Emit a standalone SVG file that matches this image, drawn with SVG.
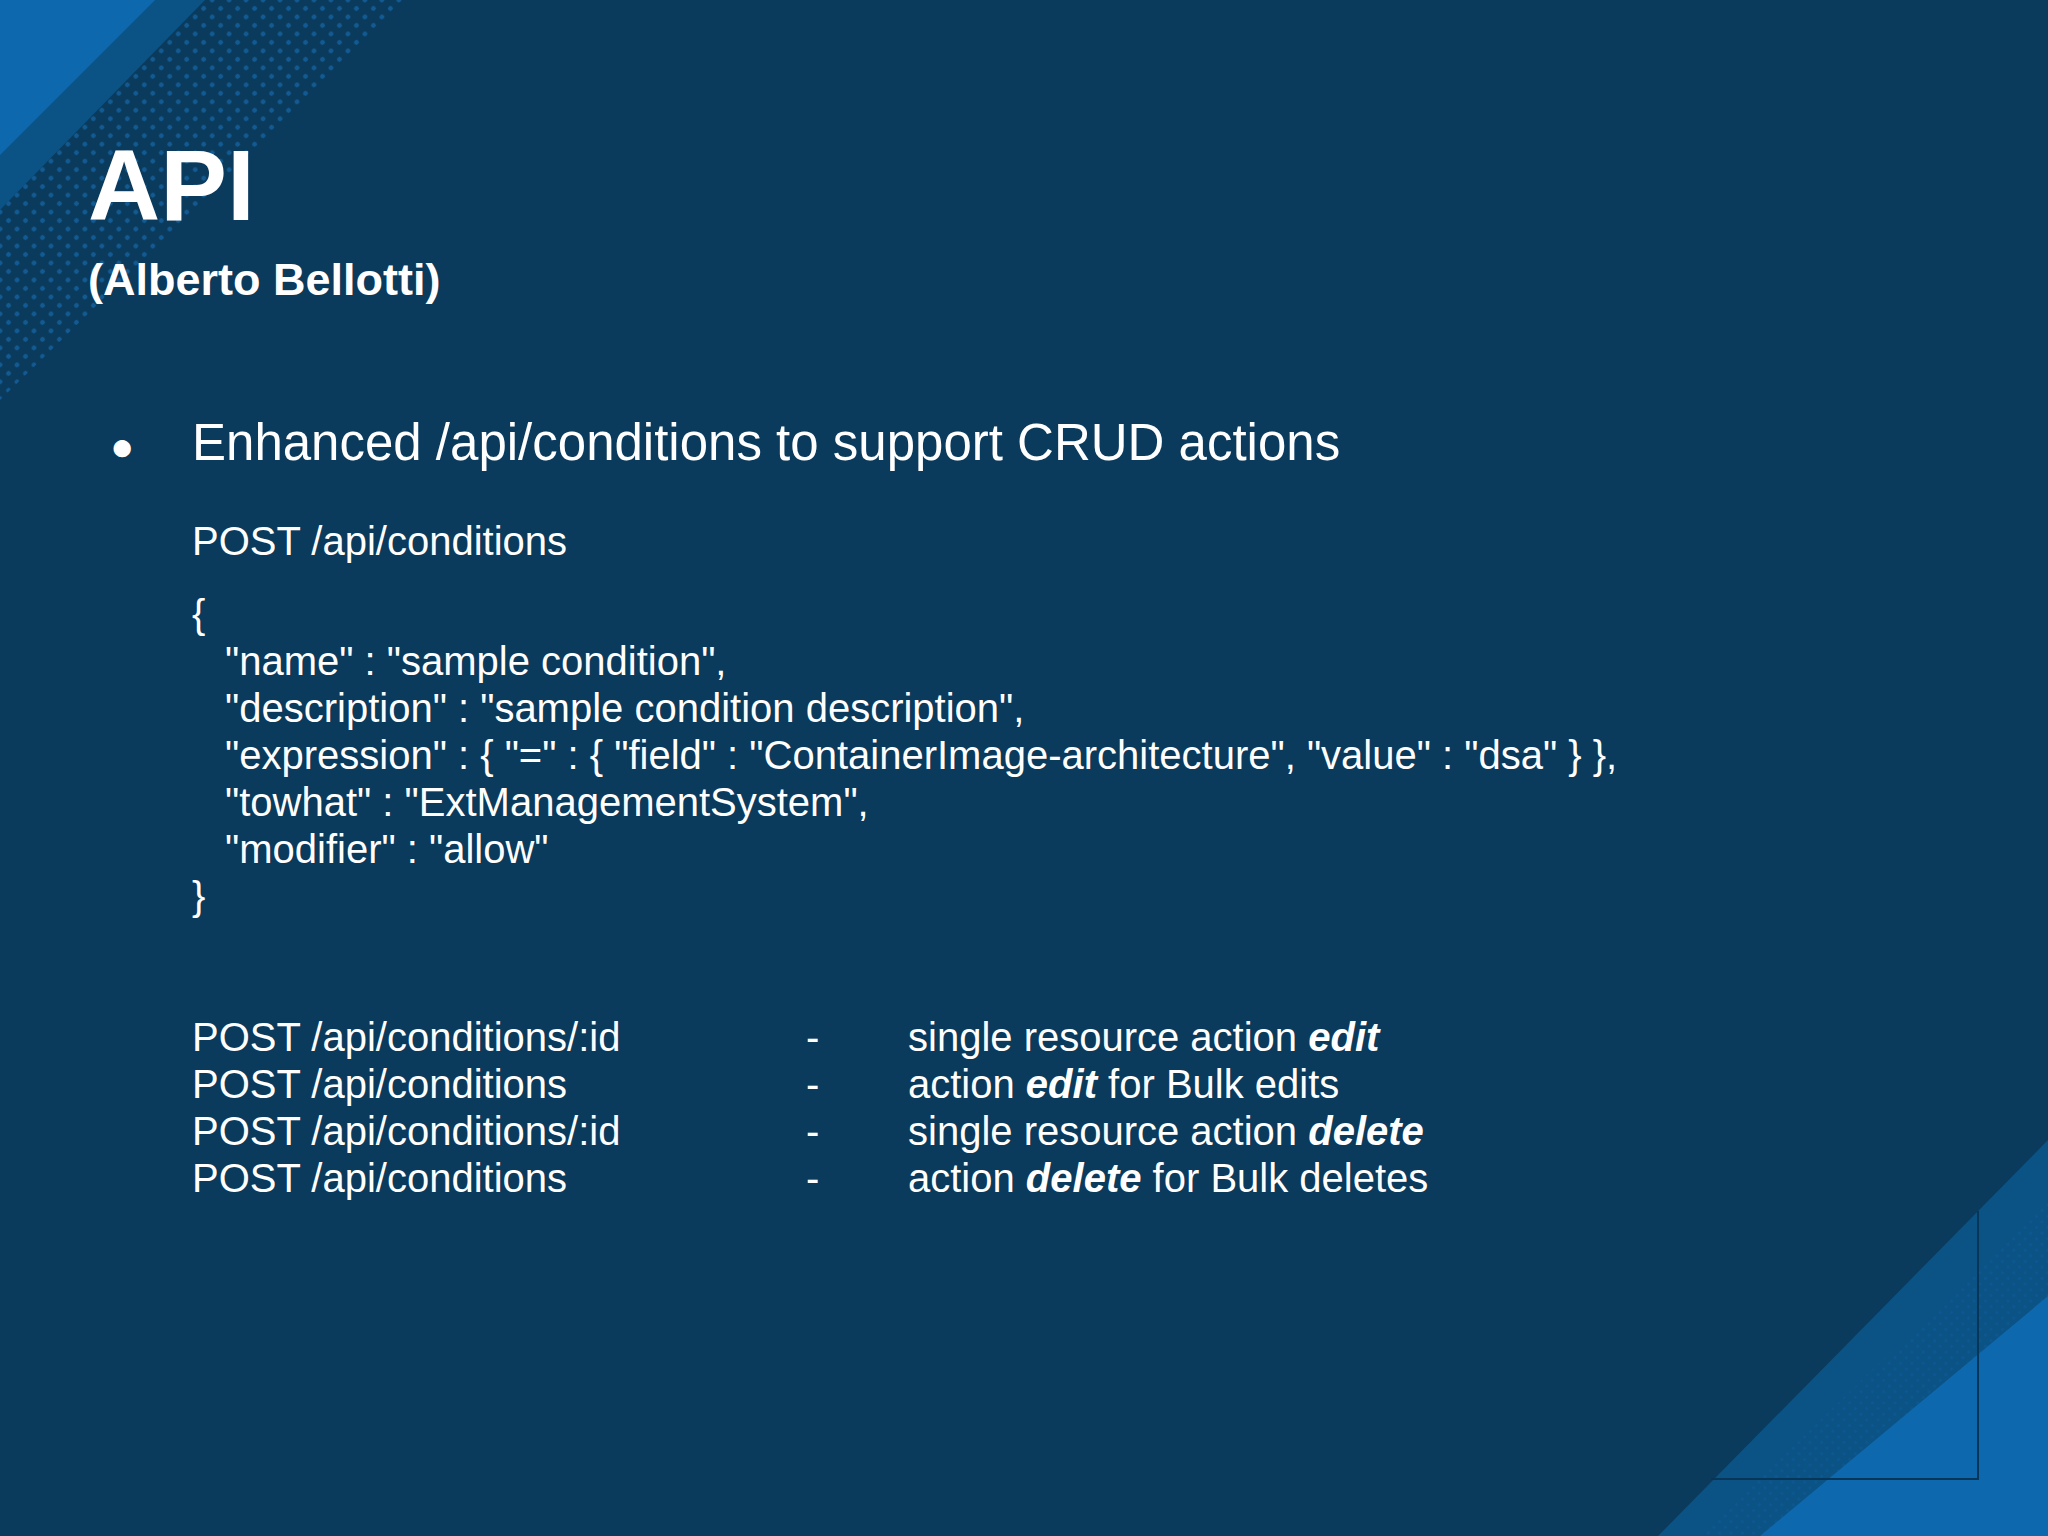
<svg xmlns="http://www.w3.org/2000/svg" width="2048" height="1536" viewBox="0 0 2048 1536">
<style>
.t{font-family:"Liberation Sans",Arial,sans-serif;fill:#ffffff}
.b{font-size:40px}
</style>
<defs>
<pattern id="dots" width="12" height="12" patternUnits="userSpaceOnUse" patternTransform="rotate(45)">
<circle cx="6" cy="6" r="2.4" fill="#1568a8" opacity="0.7"/>
</pattern>
<pattern id="dots2" width="8" height="8" patternUnits="userSpaceOnUse" patternTransform="rotate(45)">
<circle cx="4" cy="4" r="1.6" fill="#0b5a95" opacity="0.8"/>
</pattern>
</defs>
<rect width="2048" height="1536" fill="#0a3a5c"/>
<g id="corner-tl">
<polygon points="0,0 410,0 0,400" fill="url(#dots)"/>
<polygon points="0,0 205,0 0,210" fill="#0b5285"/>
<polygon points="0,0 155,0 0,155" fill="#0e68ad"/>
</g>
<g id="corner-br">
<polygon points="2048,1140 2048,1536 1658,1536" fill="#0b5285"/>
<polygon points="2048,1200 2048,1536 1700,1536" fill="url(#dots2)"/>
<polygon points="2048,1296 2048,1536 1760,1536" fill="#0e68ad"/>
<polyline points="1978,1211 1978,1479 1711,1479" fill="none" stroke="#083658" stroke-width="2"/>
</g>
<g id="title">
<text class="t" x="88" y="220" font-size="100" font-weight="bold">API</text>
<text class="t" x="88" y="295" font-size="45" font-weight="bold">(Alberto Bellotti)</text>
</g>
<g id="content">
<text class="t" x="110" y="460" font-size="40">●</text>
<text class="t" x="192" y="460" font-size="51">Enhanced /api/conditions to support CRUD actions</text>
<text class="t b" x="192" y="555">POST /api/conditions</text>
<text class="t b" x="192" y="628">{</text>
<text class="t b" x="225" y="675">"name" : "sample condition",</text>
<text class="t b" x="225" y="722">"description" : "sample condition description",</text>
<text class="t b" x="225" y="769">"expression" : { "=" : { "field" : "ContainerImage-architecture", "value" : "dsa" } },</text>
<text class="t b" x="225" y="816">"towhat" : "ExtManagementSystem",</text>
<text class="t b" x="225" y="863">"modifier" : "allow"</text>
<text class="t b" x="192" y="910">}</text>
<text class="t b" x="192" y="1051">POST /api/conditions/:id</text>
<text class="t b" x="192" y="1098">POST /api/conditions</text>
<text class="t b" x="192" y="1145">POST /api/conditions/:id</text>
<text class="t b" x="192" y="1192">POST /api/conditions</text>
<text class="t b" x="806" y="1051">-</text>
<text class="t b" x="806" y="1098">-</text>
<text class="t b" x="806" y="1145">-</text>
<text class="t b" x="806" y="1192">-</text>
<text class="t b" x="908" y="1051">single resource action <tspan font-weight="bold" font-style="italic">edit</tspan></text>
<text class="t b" x="908" y="1098">action <tspan font-weight="bold" font-style="italic">edit</tspan> for Bulk edits</text>
<text class="t b" x="908" y="1145">single resource action <tspan font-weight="bold" font-style="italic">delete</tspan></text>
<text class="t b" x="908" y="1192">action <tspan font-weight="bold" font-style="italic">delete</tspan> for Bulk deletes</text>
</g>
</svg>
